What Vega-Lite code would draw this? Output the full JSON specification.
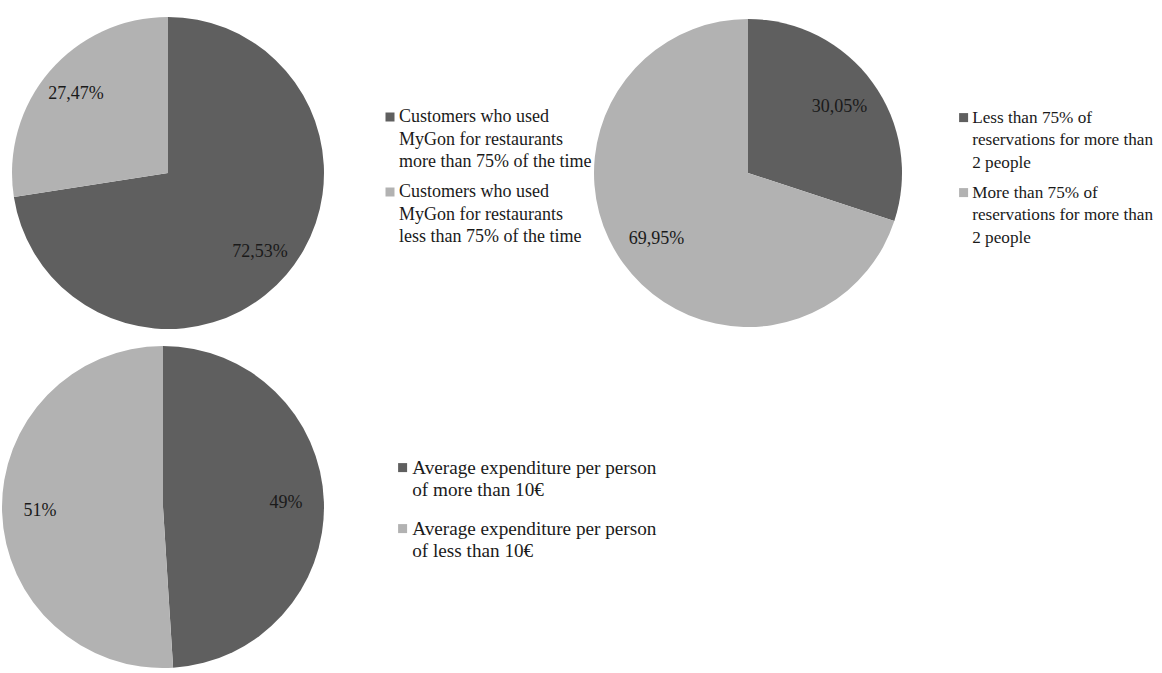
{
  "$schema": "https://vega.github.io/schema/vega-lite/v6.json",
  "padding": 0,
  "background": "white",
  "config": {
    "view": {"stroke": null},
    "legend": {
      "title": null,
      "symbolType": "square",
      "symbolSize": 81,
      "symbolStrokeWidth": 0,
      "labelFont": "Liberation Serif",
      "labelFontSize": 18,
      "labelColor": "#1a1a1a",
      "labelLimit": 0,
      "labelOffset": 0,
      "rowPadding": 12,
      "padding": 0
    },
    "style": {"guide-label": {"lineHeight": 22.5}},
    "text": {"font": "Liberation Serif", "fontSize": 18, "color": "#1a1a1a"}
  },
  "datasets": {
    "usage": [
      {"category": "Customers who used MyGon for restaurants more than 75% of the time", "share": 72.53, "label": "72,53%", "order": 1},
      {"category": "Customers who used MyGon for restaurants less than 75% of the time", "share": 27.47, "label": "27,47%", "order": 2}
    ],
    "party": [
      {"category": "Less than 75% of reservations for more than 2 people", "share": 30.05, "label": "30,05%", "order": 1},
      {"category": "More than 75% of reservations for more than 2 people", "share": 69.95, "label": "69,95%", "order": 2}
    ],
    "expenditure": [
      {"category": "Average expenditure per person of more than 10€", "share": 49, "label": "49%", "order": 1},
      {"category": "Average expenditure per person of less than 10€", "share": 51, "label": "51%", "order": 2}
    ]
  },
  "spacing": 0,
  "resolve": {"scale": {"color": "independent", "theta": "independent"}, "legend": {"color": "independent"}},
  "vconcat": [
    {
      "spacing": 260,
      "bounds": "flush",
      "resolve": {"scale": {"color": "independent", "theta": "independent"}, "legend": {"color": "independent"}},
      "hconcat": [
        {
          "width": 336,
          "height": 346,
          "data": {"name": "usage"},
          "encoding": {
            "theta": {"field": "share", "type": "quantitative", "stack": true},
            "order": {"field": "order", "type": "quantitative"}
          },
          "layer": [
            {
              "mark": {"type": "arc", "outerRadius": 156},
              "encoding": {
                "color": {
                  "field": "category", "type": "nominal",
                  "scale": {"domain": ["Customers who used MyGon for restaurants more than 75% of the time", "Customers who used MyGon for restaurants less than 75% of the time"], "range": ["#5f5f5f", "#b2b2b2"]},
                  "legend": {
                    "orient": "none", "legendX": 381, "legendY": 108,
                    "labelExpr": "datum.value == 'Customers who used MyGon for restaurants more than 75% of the time' ? ['Customers who used', 'MyGon for restaurants', 'more than 75% of the time'] : ['Customers who used', 'MyGon for restaurants', 'less than 75% of the time']"
                  }
                }
              }
            },
            {
              "mark": {"type": "text", "radius": 121},
              "encoding": {"text": {"field": "label"}}
            }
          ]
        },
        {
          "width": 304,
          "height": 346,
          "data": {"name": "party"},
          "encoding": {
            "theta": {"field": "share", "type": "quantitative", "stack": true},
            "order": {"field": "order", "type": "quantitative"}
          },
          "layer": [
            {
              "mark": {"type": "arc", "outerRadius": 154},
              "encoding": {
                "color": {
                  "field": "category", "type": "nominal",
                  "scale": {"domain": ["Less than 75% of reservations for more than 2 people", "More than 75% of reservations for more than 2 people"], "range": ["#5f5f5f", "#b2b2b2"]},
                  "legend": {
                    "orient": "none", "legendX": 359, "legendY": 109,
                    "labelFontSize": 17.2,
                    "labelExpr": "datum.value == 'Less than 75% of reservations for more than 2 people' ? ['Less than 75% of', 'reservations for more than', '2 people'] : ['More than 75% of', 'reservations for more than', '2 people']"
                  }
                }
              }
            },
            {
              "mark": {"type": "text", "radius": 113},
              "encoding": {"text": {"field": "label"}}
            }
          ]
        }
      ]
    },
    {
      "width": 326,
      "height": 318,
      "data": {"name": "expenditure"},
      "encoding": {
        "theta": {"field": "share", "type": "quantitative", "stack": true},
        "order": {"field": "order", "type": "quantitative"}
      },
      "layer": [
        {
          "mark": {"type": "arc", "outerRadius": 161},
          "encoding": {
            "color": {
              "field": "category", "type": "nominal",
              "scale": {"domain": ["Average expenditure per person of more than 10€", "Average expenditure per person of less than 10€"], "range": ["#5f5f5f", "#b2b2b2"]},
              "legend": {
                "orient": "none", "legendX": 393, "legendY": 110,
                "rowPadding": 18,
                "labelFontSize": 19.2,
                "labelExpr": "datum.value == 'Average expenditure per person of more than 10€' ? ['Average  expenditure per person', 'of more than 10€'] : ['Average  expenditure per person', 'of less than 10€']"
              }
            }
          }
        },
        {
          "mark": {"type": "text", "radius": 123},
          "encoding": {"text": {"field": "label"}}
        }
      ]
    }
  ]
}
